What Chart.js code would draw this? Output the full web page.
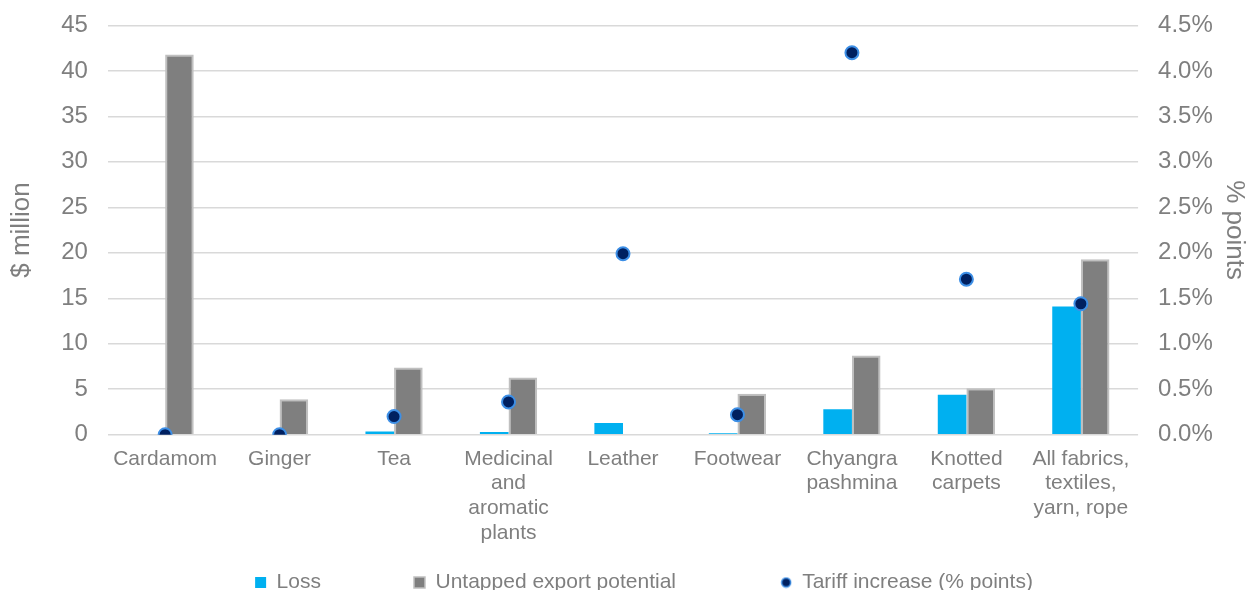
<!DOCTYPE html>
<html>
<head>
<meta charset="utf-8">
<script src="https://cdn.jsdelivr.net/npm/chart.js@4.4.1/dist/chart.umd.min.js"></script>
<style>
  html, body { margin: 0; padding: 0; background: #ffffff; overflow: hidden; }
  #wrap { position: relative; width: 1250px; height: 612px; margin-top: -9px; }
</style>
</head>
<body>
<div id="wrap"><canvas id="exportChart"></canvas></div>
<script>
// categories
var products = [
    'Cardamom',
    'Ginger',
    'Tea',
    ['Medicinal', 'and', 'aromatic', 'plants'],
    'Leather',
    'Footwear',
    ['Chyangra', 'pashmina'],
    ['Knotted', 'carpets'],
    ['All fabrics,', 'textiles,', 'yarn, rope']
];

// $ million
var lossValues = [0, 0, 0.35, 0.3, 1.3, 0.15, 2.8, 4.4, 14.1];
var untappedValues = [41.8, 3.9, 7.4, 6.3, 0, 4.5, 8.7, 5.1, 19.3];

// % points
var tariffValues = [0, 0, 0.2, 0.36, 1.99, 0.22, 4.2, 1.71, 1.44];

var seriesNames = ['Loss', 'Untapped export potential', 'Tariff increase (% points)'];

var txtColor = '#7f7f7f';
var gridColor = '#d9d9d9';
var fontFamily = '"Liberation Sans", Arial, sans-serif';

// legend spacing in the original is wide, pad the labels with spaces
var legendGaps = [12, 14, 0];

// small round marker for the legend (default circle is too big)
function makeDot() {
    var c = document.createElement('canvas');
    c.width = 12;
    c.height = 12;
    var g = c.getContext('2d');
    g.beginPath();
    g.arc(6, 6, 4.5, 0, Math.PI * 2);
    g.fillStyle = '#002060';
    g.fill();
    g.lineWidth = 1.5;
    g.strokeStyle = '#3d8fe6';
    g.stroke();
    return c;
}
var legendDot = makeDot();

var data = {
    labels: products,
    datasets: [{
        type: 'bar',
        label: seriesNames[0],
        data: lossValues,
        backgroundColor: '#00b0f0',
        borderWidth: 0,
        yAxisID: 'y',
        order: 2
    }, {
        type: 'bar',
        label: seriesNames[1],
        data: untappedValues,
        backgroundColor: '#7f7f7f',
        borderColor: '#c0c0c0',
        borderWidth: 2,
        yAxisID: 'y',
        order: 2
    }, {
        type: 'line',
        label: seriesNames[2],
        data: tariffValues,
        showLine: false,
        pointRadius: 6.5,
        pointHoverRadius: 6.5,
        pointBackgroundColor: '#002060',
        pointBorderColor: '#3d8fe6',
        pointBorderWidth: 2,
        backgroundColor: '#002060',
        borderColor: '#3d8fe6',
        yAxisID: 'y1',
        order: 1
    }]
};

// move legend sideways to where the original has it
var legendShift = {
    id: 'legendShift',
    afterLayout: function(chart) {
        chart.legend.left += 19;
        chart.legend.right += 19;
    }
};

var options = {
    responsive: true,
    maintainAspectRatio: false,
    animation: false,
    layout: {
        padding: { left: 0, right: 0, top: 1, bottom: 0 }
    },
    datasets: {
        bar: { categoryPercentage: 0.5, barPercentage: 1.0 }
    },
    plugins: {
        tooltip: { enabled: false },
        legend: {
            display: true,
            position: 'bottom',
            labels: {
                color: txtColor,
                font: { family: fontFamily, size: 21 },
                usePointStyle: true,
                boxWidth: 11,
                boxHeight: 11,
                padding: 23,
                sort: function(a, b) { return a.datasetIndex - b.datasetIndex; },
                generateLabels: function(chart) {
                    var items = Chart.defaults.plugins.legend.labels.generateLabels(chart);
                    items.forEach(function(item) {
                        var i = item.datasetIndex;
                        item.text = seriesNames[i] + ' '.repeat(legendGaps[i]);
                        if (i === 0) {
                            item.pointStyle = 'rect';
                            item.fillStyle = '#00b0f0';
                            item.lineWidth = 0;
                        } else if (i === 1) {
                            item.pointStyle = 'rect';
                            item.fillStyle = '#7f7f7f';
                            item.strokeStyle = '#c0c0c0';
                            item.lineWidth = 1.5;
                        } else {
                            item.pointStyle = legendDot;
                        }
                    });
                    return items;
                }
            }
        }
    },
    scales: {
        x: {
            grid: { display: false },
            border: { display: false },
            ticks: {
                color: txtColor,
                font: { family: fontFamily, size: 21, lineHeight: 1.17 },
                maxRotation: 0,
                autoSkip: false,
                padding: 4
            }
        },
        y: {
            position: 'left',
            min: 0,
            max: 45,
            grid: { color: gridColor, lineWidth: 1.5, drawTicks: false },
            border: { display: false },
            ticks: {
                stepSize: 5,
                color: txtColor,
                font: { family: fontFamily, size: 24 },
                padding: 20
            },
            title: {
                display: true,
                text: '$ million',
                color: txtColor,
                font: { family: fontFamily, size: 26 },
                padding: { top: 6, bottom: 4 }
            }
        },
        y1: {
            position: 'right',
            min: 0,
            max: 4.5,
            grid: { display: false, drawTicks: false },
            border: { display: false },
            ticks: {
                stepSize: 0.5,
                color: txtColor,
                font: { family: fontFamily, size: 24 },
                padding: 20,
                callback: function(v) { return v.toFixed(1) + '%'; }
            },
            title: {
                display: true,
                text: '% points',
                color: txtColor,
                font: { family: fontFamily, size: 26 },
                padding: { top: 0, bottom: -14 }
            }
        }
    }
};

var ctx = document.getElementById('exportChart').getContext('2d');
var exportChart = new Chart(ctx, {
    type: 'bar',
    data: data,
    options: options,
    plugins: [legendShift]
});
</script>
</body>
</html>
